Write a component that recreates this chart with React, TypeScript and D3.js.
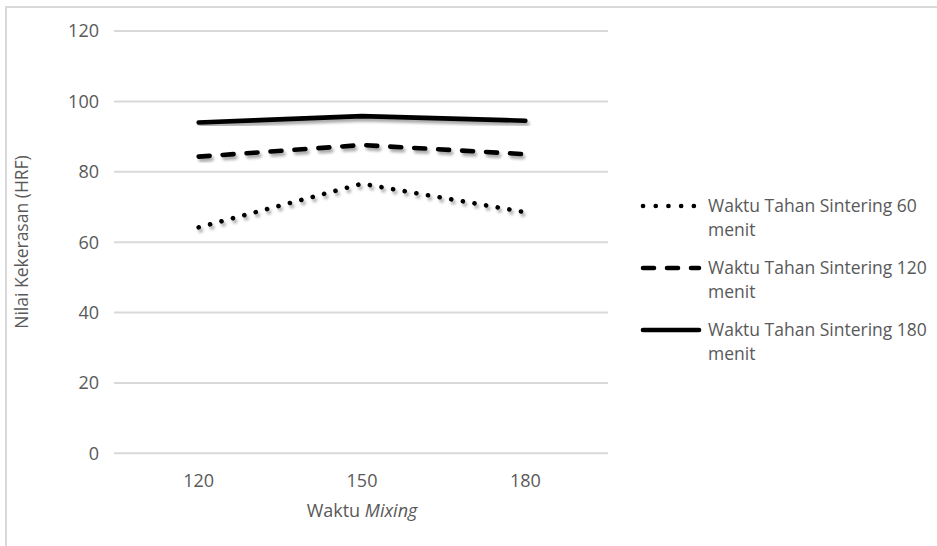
import React from "react";
import * as d3 from "d3";

// Mixing time (x categories) and hardness values per holding time
const mixingTimes = ["120", "150", "180"];
const yTicks = [0, 20, 40, 60, 80, 100, 120];
const seriesNames = [
  "Waktu Tahan Sintering 60 menit",
  "Waktu Tahan Sintering 120 menit",
  "Waktu Tahan Sintering 180 menit",
];
const hold60 = [64.2, 76.6, 68.5];
const hold120 = [84.3, 87.6, 85.0];
const hold180 = [94.0, 95.8, 94.5];

const W = 937;
const H = 546;
const FONT = "'Open Sans', 'Noto Sans', sans-serif";
const TEXT = "#595959";

const styles = [
  { dash: "0.1 11.7", width: 4.6, legendDash: "0.1 12.6" },
  { dash: "11 13", width: 4.6, legendDash: "11 13" },
  { dash: null as string | null, width: 4.6, legendDash: null as string | null },
];

export default function App() {
  const x = d3.scaleBand().domain(mixingTimes).range([117, 607]);
  const y = d3.scaleLinear().domain([0, 120]).range([453.3, 31]);
  const line = d3
    .line<number>()
    .x((_, i) => (x(mixingTimes[i]) as number) + x.bandwidth() / 2)
    .y((v) => y(v));

  const data = [hold60, hold120, hold180];
  const legendY = [206, 268, 330];

  return (
    <svg
      width={W}
      height={H}
      style={{ position: "absolute", left: 0, top: 0, background: "#fff" }}
      fontFamily={FONT}
    >
      <defs>
        <filter id="shadow" x="-10%" y="-50%" width="120%" height="200%">
          <feGaussianBlur in="SourceAlpha" stdDeviation="1.6" />
          <feOffset dx="1.5" dy="2.5" result="b" />
          <feComponentTransfer>
            <feFuncA type="linear" slope="0.35" />
          </feComponentTransfer>
          <feMerge>
            <feMergeNode />
            <feMergeNode in="SourceGraphic" />
          </feMerge>
        </filter>
      </defs>
      <rect x={0} y={0} width={W} height={H} fill="#fff" />
      {/* chart area border */}
      <rect x={6} y={7} width={W + 20} height={H + 20} fill="none" stroke="#d9d9d9" strokeWidth={2} />

      {/* gridlines and y ticks */}
      {yTicks.map((t) => (
        <g key={t}>
          <line x1={114} x2={608} y1={y(t)} y2={y(t)} stroke="#d9d9d9" strokeWidth={2} />
          <text x={99} y={y(t)} dy="0.36em" textAnchor="end" fontSize={18} fill={TEXT}>
            {t}
          </text>
        </g>
      ))}

      {/* x ticks */}
      {mixingTimes.map((c) => (
        <text
          key={c}
          x={(x(c) as number) + x.bandwidth() / 2}
          y={487}
          textAnchor="middle"
          fontSize={18}
          fill={TEXT}
        >
          {c}
        </text>
      ))}

      {/* axis titles */}
      <text x={362} y={517} textAnchor="middle" fontSize={18} fill={TEXT}>
        Waktu <tspan fontStyle="italic">Mixing</tspan>
      </text>
      <text
        transform="translate(28,242) rotate(-90)"
        textAnchor="middle"
        fontSize={17.5}
        fill={TEXT}
      >
        Nilai Kekerasan (HRF)
      </text>

      {/* series lines */}
      {data.map((vals, i) => (
        <path
          key={i}
          d={line(vals) as string}
          fill="none"
          stroke="#000"
          strokeWidth={styles[i].width}
          strokeLinecap="round"
          strokeLinejoin="round"
          strokeDasharray={styles[i].dash ?? undefined}
          filter="url(#shadow)"
        />
      ))}

      {/* legend */}
      {seriesNames.map((name, i) => {
        const ly = legendY[i];
        const words = name.split(" ");
        const first = words.slice(0, -1).join(" ");
        const last = words[words.length - 1];
        return (
          <g key={name}>
            <line
              x1={643}
              x2={i === 0 ? 694 : 699}
              y1={ly}
              y2={ly}
              stroke="#000"
              strokeWidth={styles[i].width}
              strokeLinecap="round"
              strokeDasharray={styles[i].legendDash ?? undefined}
            />
            <text x={708} y={ly} dy="0.36em" fontSize={17.5} fill={TEXT}>
              {first}
            </text>
            <text x={708} y={ly + 24} dy="0.36em" fontSize={17.5} fill={TEXT}>
              {last}
            </text>
          </g>
        );
      })}
    </svg>
  );
}
